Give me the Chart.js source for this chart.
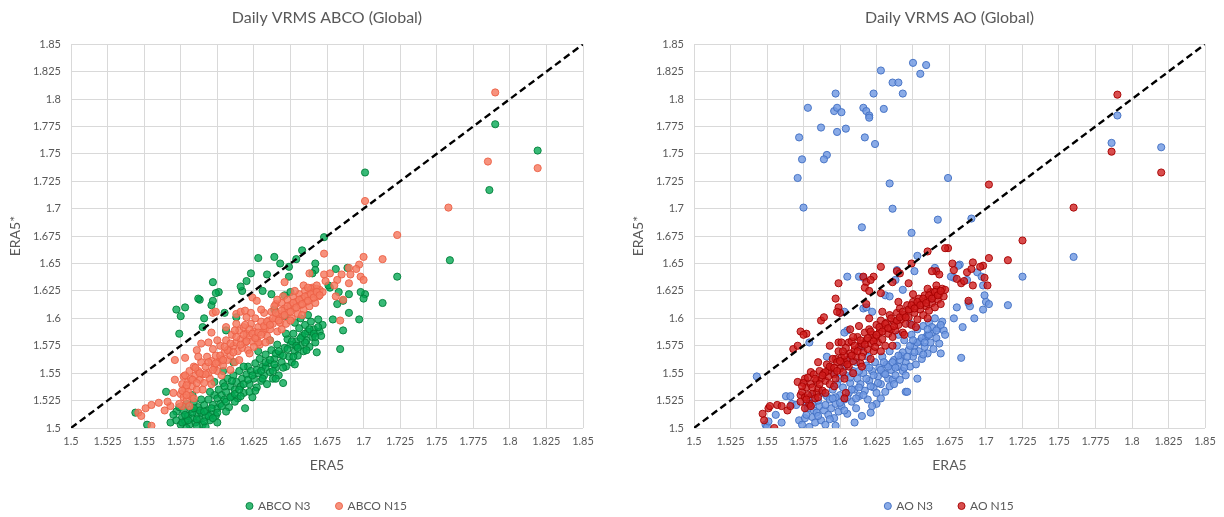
<!DOCTYPE html>
<html>
<head>
<meta charset="utf-8">
<script src="https://cdn.jsdelivr.net/npm/chart.js@4.4.1/dist/chart.umd.min.js"></script>
<style>
  html, body { margin: 0; padding: 0; background: #ffffff; overflow: hidden; width: 1224px; height: 517px; }
  .panel { position: absolute; top: 0; height: 517px; }
  #panelA { left: 0; width: 654px; }
  #panelB { left: 625px; width: 649px; }
  canvas { display: block; }
</style>
</head>
<body>
<div class="panel" id="panelA"><canvas id="chartA" width="654" height="517"></canvas></div>
<div class="panel" id="panelB"><canvas id="chartB" width="649" height="517"></canvas></div>
<script>
// Shared axis ticks (both axes, both panels)
const tickValues = [1.5, 1.525, 1.55, 1.575, 1.6, 1.625, 1.65, 1.675, 1.7, 1.725, 1.75, 1.775, 1.8, 1.825, 1.85];
const tickLabels = ['1.5', '1.525', '1.55', '1.575', '1.6', '1.625', '1.65', '1.675', '1.7', '1.725', '1.75', '1.775', '1.8', '1.825', '1.85'];

// 1:1 reference line end points
const identityLine = [1.5, 1.85];

const panelTitles = ['Daily VRMS ABCO (Global)', 'Daily VRMS AO (Global)'];
const seriesNames = ['ABCO N3', 'ABCO N15', 'AO N3', 'AO N15'];

// Daily values, [ERA5, ERA5*]
const abcoN3 = [
  [1.819,1.753],[1.790,1.777],[1.786,1.717],[1.759,1.653],[1.723,1.638],[1.713,1.614],[1.701,1.733],[1.701,1.622],
  [1.698,1.624],[1.700,1.618],[1.697,1.599],[1.690,1.605],[1.689,1.646],[1.690,1.622],[1.686,1.589],[1.684,1.572],
  [1.686,1.616],[1.683,1.624],[1.681,1.645],[1.682,1.613],[1.679,1.599],[1.677,1.628],[1.676,1.630],[1.673,1.674],
  [1.667,1.650],[1.667,1.644],[1.665,1.641],[1.658,1.662],[1.654,1.654],[1.649,1.647],[1.649,1.638],[1.643,1.650],
  [1.639,1.656],[1.634,1.640],[1.628,1.655],[1.623,1.641],[1.620,1.634],[1.617,1.625],[1.616,1.629],[1.631,1.625],
  [1.637,1.622],[1.646,1.621],[1.650,1.624],[1.639,1.608],[1.613,1.601],[1.606,1.589],[1.605,1.605],[1.597,1.633],
  [1.601,1.624],[1.596,1.612],[1.597,1.616],[1.588,1.617],[1.590,1.592],[1.591,1.600],[1.572,1.608],[1.578,1.610],
  [1.575,1.602],[1.574,1.586],[1.572,1.515],[1.565,1.533],[1.544,1.514],[1.552,1.503],[1.568,1.505],[1.646,1.602],
  [1.653,1.596],[1.599,1.623],[1.587,1.618],
  [1.570,1.512],[1.572,1.507],[1.574,1.519],[1.575,1.503],[1.576,1.510],[1.577,1.516],[1.578,1.506],[1.579,1.522],
  [1.580,1.511],[1.581,1.503],[1.582,1.517],[1.583,1.509],[1.584,1.524],[1.585,1.505],[1.586,1.513],[1.587,1.519],
  [1.588,1.508],[1.589,1.514],[1.590,1.503],[1.591,1.521],[1.592,1.501],[1.592,1.510],[1.593,1.516],[1.594,1.526],
  [1.595,1.507],[1.596,1.513],[1.597,1.521],[1.598,1.530],[1.599,1.511],[1.600,1.518],[1.600,1.527],
  [1.601,1.535],[1.602,1.522],[1.603,1.530],[1.604,1.541],[1.605,1.526],[1.606,1.533],[1.607,1.545],[1.608,1.519],
  [1.609,1.538],[1.610,1.529],[1.611,1.548],[1.612,1.535],[1.613,1.542],[1.614,1.527],[1.615,1.552],
  [1.616,1.538],[1.617,1.545],[1.618,1.532],[1.619,1.518],[1.620,1.549],[1.621,1.556],[1.622,1.540],[1.623,1.552],
  [1.624,1.528],[1.625,1.545],[1.626,1.559],[1.627,1.537],[1.628,1.550],[1.629,1.563],[1.630,1.543],
  [1.631,1.556],[1.632,1.548],[1.633,1.567],[1.634,1.540],[1.635,1.559],[1.636,1.551],[1.637,1.571],[1.638,1.545],
  [1.639,1.563],[1.640,1.555],[1.641,1.576],[1.642,1.548],[1.643,1.567],[1.644,1.560],[1.645,1.541],
  [1.646,1.573],[1.647,1.556],[1.648,1.581],[1.649,1.565],[1.650,1.576],[1.651,1.560],[1.652,1.586],[1.653,1.570],
  [1.654,1.579],[1.655,1.566],[1.656,1.591],[1.657,1.575],[1.658,1.584],[1.659,1.570],[1.660,1.594],
  [1.661,1.580],[1.662,1.588],[1.663,1.574],[1.664,1.597],[1.665,1.583],[1.666,1.590],[1.667,1.578],[1.668,1.569],
  [1.669,1.599],[1.670,1.588],[1.671,1.584],[1.672,1.594],
  [1.583,1.530],[1.589,1.526],[1.595,1.533],[1.606,1.515],[1.612,1.524],[1.618,1.556],[1.626,1.534],[1.633,1.555],
  [1.640,1.568],[1.647,1.586],[1.653,1.558],[1.660,1.578],[1.636,1.580],[1.628,1.570],[1.611,1.560],[1.604,1.552],
  [1.598,1.542],[1.579,1.500],[1.586,1.502],[1.600,1.505],[1.657,1.600],[1.662,1.603],
  [1.576,1.505],[1.580,1.507],[1.583,1.514],[1.586,1.508],[1.588,1.516],[1.591,1.506],[1.594,1.511],[1.597,1.509],
  [1.600,1.514],[1.603,1.520],[1.606,1.524],[1.609,1.528],[1.612,1.531],[1.615,1.535],[1.618,1.540],[1.621,1.544],
  [1.624,1.548],[1.627,1.553],[1.630,1.552],[1.633,1.560],[1.636,1.562],[1.639,1.558],[1.642,1.570],[1.645,1.566],
  [1.648,1.572],[1.651,1.579],[1.654,1.575],[1.657,1.582],[1.660,1.586],[1.663,1.590],[1.666,1.586],[1.669,1.592],
  [1.605,1.538],[1.610,1.543],[1.616,1.529],[1.622,1.533],[1.631,1.545],[1.638,1.552],[1.645,1.555],[1.652,1.565],
  [1.596,1.518],[1.591,1.515],[1.584,1.518],[1.578,1.512],[1.640,1.545],[1.655,1.573],[1.661,1.571],[1.667,1.583]
];

const abcoN15 = [
  [1.790,1.806],[1.785,1.743],[1.819,1.737],[1.758,1.701],[1.701,1.707],[1.723,1.676],[1.713,1.654],[1.700,1.656],
  [1.697,1.649],[1.673,1.659],[1.690,1.646],[1.691,1.640],[1.685,1.640],[1.682,1.635],[1.677,1.641],[1.663,1.641],
  [1.698,1.638],[1.700,1.635],[1.690,1.632],[1.646,1.633],[1.659,1.630],[1.665,1.628],[1.667,1.625],[1.673,1.640],
  [1.686,1.617],[1.684,1.598],[1.681,1.620],[1.695,1.645],[1.674,1.634],[1.680,1.630],
  [1.546,1.514],[1.548,1.511],[1.551,1.518],[1.555,1.502],[1.555,1.521],[1.560,1.523],[1.564,1.516],[1.568,1.520],
  [1.570,1.532],[1.571,1.544],[1.577,1.547],[1.571,1.562],[1.578,1.564],[1.576,1.520],[1.586,1.571],[1.589,1.577],
  [1.596,1.587],[1.597,1.605],[1.599,1.606],[1.613,1.604],[1.616,1.606],[1.619,1.607],[1.623,1.605],[1.624,1.619],
  [1.627,1.616],[1.640,1.613],[1.645,1.620],[1.566,1.524],
  [1.574,1.522],[1.575,1.531],[1.576,1.540],[1.577,1.528],[1.578,1.536],[1.578,1.548],[1.579,1.525],[1.580,1.542],
  [1.580,1.533],[1.581,1.552],[1.582,1.529],[1.582,1.545],[1.583,1.538],[1.584,1.556],[1.585,1.548],[1.586,1.535],
  [1.587,1.552],[1.588,1.544],[1.589,1.560],[1.590,1.549],
  [1.591,1.541],[1.592,1.556],[1.593,1.565],[1.594,1.550],[1.595,1.545],[1.596,1.561],[1.597,1.572],[1.598,1.555],
  [1.599,1.566],[1.600,1.552],[1.601,1.560],[1.602,1.575],[1.603,1.563],[1.604,1.557],[1.605,1.569],
  [1.606,1.580],[1.607,1.562],[1.608,1.572],[1.609,1.566],[1.610,1.585],[1.611,1.575],[1.612,1.560],[1.613,1.578],
  [1.614,1.570],[1.615,1.589],[1.616,1.581],[1.617,1.573],[1.618,1.592],[1.619,1.578],[1.620,1.586],
  [1.621,1.571],[1.622,1.583],[1.623,1.595],[1.624,1.579],[1.625,1.588],[1.626,1.600],[1.627,1.582],[1.628,1.592],
  [1.629,1.576],[1.630,1.597],[1.631,1.587],[1.632,1.605],[1.633,1.591],[1.634,1.584],[1.635,1.598],
  [1.636,1.590],[1.637,1.606],[1.638,1.595],[1.639,1.611],[1.640,1.600],[1.641,1.588],[1.642,1.604],[1.643,1.596],
  [1.644,1.614],[1.645,1.602],[1.646,1.609],[1.647,1.595],[1.648,1.617],[1.649,1.606],[1.650,1.612],
  [1.651,1.600],[1.652,1.620],[1.653,1.609],[1.654,1.615],[1.655,1.604],[1.656,1.622],[1.657,1.612],[1.658,1.618],
  [1.659,1.608],[1.660,1.625],[1.661,1.615],[1.662,1.621],[1.663,1.611],[1.664,1.627],[1.665,1.618],[1.666,1.623],
  [1.667,1.614],[1.668,1.627],[1.669,1.620],[1.670,1.626],[1.672,1.624],
  [1.581,1.520],[1.584,1.527],[1.590,1.535],[1.596,1.540],[1.603,1.548],[1.609,1.553],[1.615,1.562],[1.622,1.568],
  [1.628,1.578],[1.636,1.580],[1.644,1.590],[1.650,1.598],[1.658,1.603],[1.600,1.580],[1.606,1.592],[1.613,1.595],
  [1.620,1.601],[1.630,1.608],[1.641,1.617],[1.653,1.625],[1.662,1.628],[1.668,1.630],[1.587,1.565],[1.594,1.578],
  [1.592,1.549],[1.594,1.560],[1.597,1.553],[1.599,1.559],[1.602,1.566],[1.604,1.562],[1.607,1.571],[1.609,1.577],
  [1.611,1.569],[1.613,1.583],[1.616,1.576],[1.618,1.585],[1.620,1.579],[1.622,1.590],[1.624,1.586],[1.626,1.582],
  [1.628,1.587],[1.630,1.585],[1.632,1.593],[1.634,1.597],[1.636,1.594],[1.638,1.600],[1.640,1.605],[1.642,1.598],
  [1.644,1.607],[1.646,1.603],[1.648,1.611],[1.650,1.606],[1.652,1.614],[1.654,1.610],[1.656,1.617],[1.658,1.613],
  [1.660,1.620],[1.662,1.616],[1.664,1.622],[1.666,1.619],[1.668,1.624],[1.670,1.621],[1.579,1.539],[1.583,1.544],
  [1.586,1.541],[1.588,1.550],[1.576,1.534],[1.579,1.530],[1.585,1.555],[1.605,1.574],[1.612,1.589],[1.619,1.594],
  [1.625,1.574],[1.633,1.578]
];

const aoN3 = [
  [1.650,1.833],[1.659,1.831],[1.655,1.823],[1.628,1.826],[1.636,1.815],[1.640,1.815],[1.643,1.805],[1.623,1.805],
  [1.597,1.805],[1.578,1.792],[1.596,1.789],[1.598,1.792],[1.601,1.788],[1.616,1.792],[1.618,1.789],[1.620,1.785],
  [1.620,1.783],[1.630,1.791],[1.587,1.774],[1.598,1.770],[1.604,1.773],[1.572,1.765],[1.617,1.765],[1.624,1.759],
  [1.591,1.749],[1.589,1.745],[1.574,1.745],[1.571,1.728],[1.575,1.701],[1.634,1.723],[1.674,1.728],[1.636,1.700],
  [1.667,1.690],[1.615,1.683],[1.649,1.678],[1.690,1.691],
  [1.786,1.760],[1.790,1.785],[1.820,1.756],[1.760,1.656],[1.725,1.638],
  [1.665,1.646],[1.682,1.649],[1.639,1.644],[1.651,1.643],[1.653,1.657],[1.605,1.638],[1.613,1.638],[1.616,1.637],
  [1.638,1.635],[1.678,1.637],[1.687,1.635],[1.694,1.642],[1.698,1.630],[1.643,1.626],[1.631,1.621],[1.616,1.609],
  [1.622,1.606],[1.603,1.606],[1.605,1.589],[1.591,1.565],[1.543,1.547],[1.681,1.648],[1.676,1.638],[1.678,1.600],
  [1.683,1.564],[1.688,1.614],[1.689,1.611],[1.697,1.638],[1.698,1.608],[1.700,1.615],[1.699,1.621],[1.684,1.592],
  [1.663,1.618],[1.645,1.533],[1.715,1.612],[1.702,1.613],[1.680,1.610],[1.692,1.600],
  [1.549,1.503],[1.550,1.501],[1.551,1.506],[1.556,1.512],[1.560,1.505],[1.563,1.529],[1.566,1.529],[1.567,1.522],
  [1.570,1.521],[1.572,1.507],[1.574,1.503],[1.576,1.509],[1.577,1.523],[1.578,1.518],[1.579,1.501],[1.580,1.529],
  [1.581,1.510],[1.582,1.516],
  [1.583,1.505],[1.584,1.514],[1.586,1.520],[1.587,1.507],[1.588,1.532],[1.589,1.516],[1.590,1.503],[1.591,1.529],
  [1.592,1.512],[1.593,1.526],[1.594,1.518],[1.595,1.535],[1.596,1.509],[1.597,1.522],[1.598,1.540],[1.599,1.515],
  [1.600,1.530],[1.600,1.545],
  [1.601,1.520],[1.602,1.537],[1.603,1.526],[1.604,1.548],[1.605,1.513],[1.606,1.532],[1.607,1.541],[1.608,1.524],
  [1.609,1.552],[1.610,1.535],[1.611,1.518],[1.612,1.545],[1.613,1.529],[1.614,1.540],[1.615,1.511],[1.616,1.550],
  [1.617,1.534],[1.618,1.557],[1.619,1.526],[1.620,1.543],
  [1.621,1.514],[1.622,1.552],[1.623,1.537],[1.624,1.560],[1.625,1.522],[1.626,1.547],[1.627,1.555],[1.628,1.540],
  [1.629,1.565],[1.630,1.550],[1.631,1.533],[1.632,1.558],[1.633,1.545],[1.634,1.570],[1.635,1.553],[1.636,1.544],
  [1.637,1.562],[1.638,1.548],[1.639,1.575],[1.640,1.556],
  [1.641,1.544],[1.642,1.566],[1.643,1.552],[1.644,1.580],[1.645,1.560],[1.646,1.533],[1.647,1.571],[1.648,1.556],
  [1.649,1.585],[1.650,1.565],[1.651,1.575],[1.652,1.558],[1.653,1.590],[1.654,1.570],[1.655,1.579],[1.656,1.563],
  [1.657,1.593],[1.658,1.574],[1.659,1.583],[1.660,1.568],
  [1.661,1.596],[1.662,1.578],[1.663,1.587],[1.664,1.572],[1.665,1.600],[1.666,1.582],[1.667,1.591],[1.668,1.577],
  [1.669,1.568],[1.670,1.597],[1.671,1.589],[1.672,1.585],
  [1.585,1.525],[1.596,1.550],[1.603,1.556],[1.611,1.560],[1.619,1.565],[1.628,1.527],[1.634,1.538],[1.645,1.548],
  [1.653,1.545],[1.660,1.585],[1.648,1.595],[1.640,1.585],[1.615,1.574],[1.606,1.563],[1.579,1.578],[1.603,1.587],
  [1.600,1.605],[1.618,1.610],[1.634,1.620],[1.610,1.505],[1.597,1.502],[1.622,1.520],
  [1.585,1.511],[1.590,1.521],[1.593,1.508],[1.597,1.528],[1.600,1.523],[1.603,1.516],[1.605,1.528],[1.608,1.535],
  [1.611,1.527],[1.613,1.537],[1.616,1.530],[1.618,1.545],[1.621,1.538],[1.623,1.548],[1.626,1.541],[1.628,1.553],
  [1.631,1.549],[1.633,1.556],[1.636,1.560],[1.638,1.555],[1.641,1.562],[1.643,1.569],[1.646,1.565],[1.648,1.575],
  [1.651,1.569],[1.653,1.578],[1.656,1.582],[1.658,1.578],[1.661,1.585],[1.663,1.592],[1.666,1.589],[1.669,1.594],
  [1.607,1.546],[1.613,1.552],[1.620,1.555],[1.630,1.560],[1.640,1.566],[1.650,1.580],[1.660,1.590],[1.595,1.527],
  [1.577,1.512],[1.581,1.522],[1.625,1.532],[1.637,1.540],[1.644,1.555],[1.657,1.567]
];

const aoN15 = [
  [1.790,1.804],[1.786,1.752],[1.820,1.733],[1.760,1.701],[1.725,1.671],[1.702,1.722],[1.715,1.653],[1.702,1.655],
  [1.698,1.648],[1.691,1.651],[1.674,1.664],[1.660,1.661],[1.649,1.650],[1.628,1.647],[1.639,1.643],[1.641,1.641],
  [1.623,1.638],[1.616,1.638],[1.599,1.632],[1.618,1.633],[1.621,1.635],[1.636,1.633],[1.647,1.632],[1.666,1.643],
  [1.668,1.640],[1.678,1.644],[1.687,1.642],[1.690,1.645],[1.699,1.637],[1.701,1.630],[1.691,1.630],[1.683,1.632],
  [1.685,1.634],[1.663,1.643],[1.677,1.650],[1.696,1.647],[1.680,1.636],[1.688,1.616],[1.672,1.664],
  [1.573,1.588],[1.577,1.586],[1.575,1.585],[1.568,1.572],[1.571,1.575],[1.587,1.598],[1.589,1.601],[1.597,1.618],
  [1.599,1.610],[1.600,1.605],[1.598,1.606],[1.617,1.628],[1.620,1.625],[1.618,1.613],[1.628,1.623],
  [1.547,1.513],[1.548,1.507],[1.551,1.518],[1.552,1.520],[1.557,1.521],[1.560,1.520],[1.564,1.516],[1.566,1.520],
  [1.555,1.500],[1.573,1.530],[1.571,1.542],[1.576,1.545],[1.576,1.518],[1.580,1.551],[1.584,1.532],[1.592,1.552],
  [1.597,1.563],[1.599,1.578],[1.606,1.578],[1.604,1.532],[1.603,1.527],
  [1.573,1.524],[1.574,1.533],[1.575,1.541],[1.576,1.528],[1.577,1.537],[1.578,1.546],[1.579,1.522],[1.580,1.540],
  [1.581,1.531],[1.582,1.549],[1.583,1.527],[1.584,1.543],[1.585,1.536],[1.586,1.552],[1.587,1.545],[1.588,1.534],
  [1.589,1.550],[1.590,1.543],[1.591,1.558],[1.592,1.547],
  [1.593,1.540],[1.594,1.555],[1.595,1.563],[1.596,1.549],[1.597,1.545],[1.598,1.560],[1.599,1.570],[1.600,1.554],
  [1.601,1.564],[1.602,1.551],[1.603,1.560],[1.604,1.573],[1.605,1.562],[1.606,1.556],[1.607,1.568],
  [1.608,1.579],[1.609,1.561],[1.610,1.571],[1.611,1.565],[1.612,1.583],[1.613,1.574],[1.614,1.559],[1.615,1.577],
  [1.616,1.569],[1.617,1.587],[1.618,1.580],[1.619,1.572],[1.620,1.590],[1.621,1.577],[1.622,1.585],
  [1.623,1.570],[1.624,1.582],[1.625,1.594],[1.626,1.578],[1.627,1.587],[1.628,1.598],[1.629,1.581],[1.630,1.591],
  [1.631,1.575],[1.632,1.596],[1.633,1.586],[1.634,1.603],[1.635,1.590],[1.636,1.583],[1.637,1.597],
  [1.638,1.589],[1.639,1.605],[1.640,1.594],[1.641,1.609],[1.642,1.599],[1.643,1.587],[1.644,1.603],[1.645,1.595],
  [1.646,1.612],[1.647,1.601],[1.648,1.608],[1.649,1.594],[1.650,1.615],[1.651,1.605],[1.652,1.611],
  [1.653,1.599],[1.654,1.618],[1.655,1.608],[1.656,1.614],[1.657,1.603],[1.658,1.621],[1.659,1.611],[1.660,1.617],
  [1.661,1.607],[1.662,1.624],[1.663,1.614],[1.664,1.620],[1.665,1.610],[1.666,1.626],[1.667,1.617],[1.668,1.622],
  [1.669,1.613],[1.670,1.627],[1.671,1.620],[1.672,1.626],
  [1.580,1.520],[1.585,1.528],[1.590,1.532],[1.596,1.538],[1.603,1.545],[1.609,1.550],[1.615,1.556],[1.621,1.563],
  [1.628,1.570],[1.636,1.575],[1.644,1.585],[1.652,1.592],[1.660,1.600],[1.601,1.578],[1.607,1.590],[1.613,1.593],
  [1.620,1.600],[1.629,1.606],[1.640,1.615],[1.650,1.622],[1.660,1.627],[1.666,1.630],[1.585,1.560],[1.593,1.575],
  [1.590,1.551],[1.593,1.556],[1.596,1.555],[1.598,1.552],[1.600,1.561],[1.603,1.566],[1.605,1.558],[1.608,1.566],
  [1.610,1.575],[1.612,1.570],[1.614,1.580],[1.617,1.576],[1.619,1.582],[1.621,1.588],[1.623,1.579],[1.625,1.585],
  [1.627,1.592],[1.629,1.588],[1.631,1.595],[1.633,1.591],[1.635,1.600],[1.637,1.593],[1.639,1.598],[1.641,1.601],
  [1.643,1.606],[1.645,1.601],[1.647,1.608],[1.649,1.612],[1.651,1.609],[1.653,1.615],[1.655,1.612],[1.657,1.618],
  [1.659,1.614],[1.661,1.621],[1.663,1.618],[1.665,1.624],[1.667,1.621],[1.669,1.625],[1.578,1.530],[1.581,1.537],
  [1.583,1.545],[1.586,1.540],[1.588,1.548],[1.577,1.526],[1.574,1.538],[1.602,1.570],[1.609,1.583],[1.615,1.565],
  [1.624,1.574]
];

const FONT = "Lato, 'Noto Sans', 'DejaVu Sans', sans-serif";
const TEXT = '#595959';
const GRID = '#d9d9d9';
const LEGEND_GAP = 26;

function toPoints(pairs) { return pairs.map(([x, y]) => ({ x, y })); }

function scatterSet(label, pairs, fill, edge, order) {
  return {
    type: 'scatter', label, data: toPoints(pairs), order, yAxisID: 'y',
    pointRadius: 3.6, pointHoverRadius: 3.6, pointBorderWidth: 1,
    backgroundColor: fill, borderColor: edge, pointStyle: 'circle'
  };
}

function axis(titleText, isX, boxSize, titlePad) {
  return {
    type: 'linear', min: 1.5, max: 1.85,
    afterBuildTicks: (s) => { s.ticks = tickValues.map(v => ({ value: v })); },
    afterFit: (s) => { if (isX) s.height = boxSize; else s.width = boxSize; },
    ticks: {
      callback: (v, i) => tickLabels[i],
      color: TEXT, font: { family: FONT, size: 11 },
      padding: isX ? 7 : 10, autoSkip: false, maxRotation: 0
    },
    grid: { color: GRID, lineWidth: 1, drawTicks: false },
    border: { display: false },
    title: {
      display: true, text: titleText, color: TEXT,
      font: { family: FONT, size: 14 },
      padding: titlePad
    }
  };
}

// Blank right-hand gutter so the title and legend stay centred over the plot
function gutter(width) {
  return {
    type: 'linear', position: 'right', display: true, min: 1.5, max: 1.85,
    grid: { display: false, drawTicks: false }, border: { display: false },
    ticks: { display: false },
    afterFit: (s) => { s.width = width; }
  };
}

function makeChart(id, title, n3Name, n15Name, n3, n15, colors, yBox, rightGap, yTitleGap) {
  return new Chart(document.getElementById(id), {
    data: {
      datasets: [
        {
          type: 'line', label: '1:1', order: 0, yAxisID: 'y',
          data: identityLine.map(v => ({ x: v, y: v })),
          borderColor: '#000000', borderWidth: 2.4, borderDash: [7, 4],
          pointRadius: 0, fill: false
        },
        scatterSet(n3Name, n3, colors[0], colors[1], 2),
        scatterSet(n15Name, n15, colors[2], colors[3], 1)
      ]
    },
    options: {
      responsive: false, animation: false, devicePixelRatio: 1,
      layout: { padding: { left: 0, right: 0, top: 0, bottom: -5 } },
      scales: {
        x: axis('ERA5', true, 72 - LEGEND_GAP, { top: 0, bottom: 0 }),
        y: axis('ERA5*', false, yBox, { top: yTitleGap, bottom: 0 }),
        y2: gutter(rightGap)
      },
      plugins: {
        title: {
          display: true, text: title, color: TEXT,
          font: { family: FONT, size: 16, weight: 'normal' },
          padding: { top: 8, bottom: 17 }
        },
        legend: {
          position: 'bottom',
          labels: {
            color: TEXT, font: { family: FONT, size: 12 },
            usePointStyle: true, pointStyle: 'circle', boxWidth: 5, boxHeight: 5, padding: LEGEND_GAP,
            filter: (item) => item.datasetIndex !== 0,
            sort: (a, b) => a.datasetIndex - b.datasetIndex
          }
        },
        tooltip: { enabled: false }
      }
    }
  });
}

Chart.defaults.font.family = FONT;

makeChart('chartA', panelTitles[0], seriesNames[0], seriesNames[1], abcoN3, abcoN15,
  ['rgba(0,166,81,0.78)', 'rgba(0,128,58,0.9)', 'rgba(245,122,96,0.82)', 'rgba(236,96,70,0.9)'], 71, 71, 7);
makeChart('chartB', panelTitles[1], seriesNames[2], seriesNames[3], aoN3, aoN15,
  ['rgba(112,152,226,0.82)', 'rgba(68,114,196,0.95)', 'rgba(206,28,28,0.78)', 'rgba(165,0,0,0.9)'], 69, 69, 5);
</script>
</body>
</html>
